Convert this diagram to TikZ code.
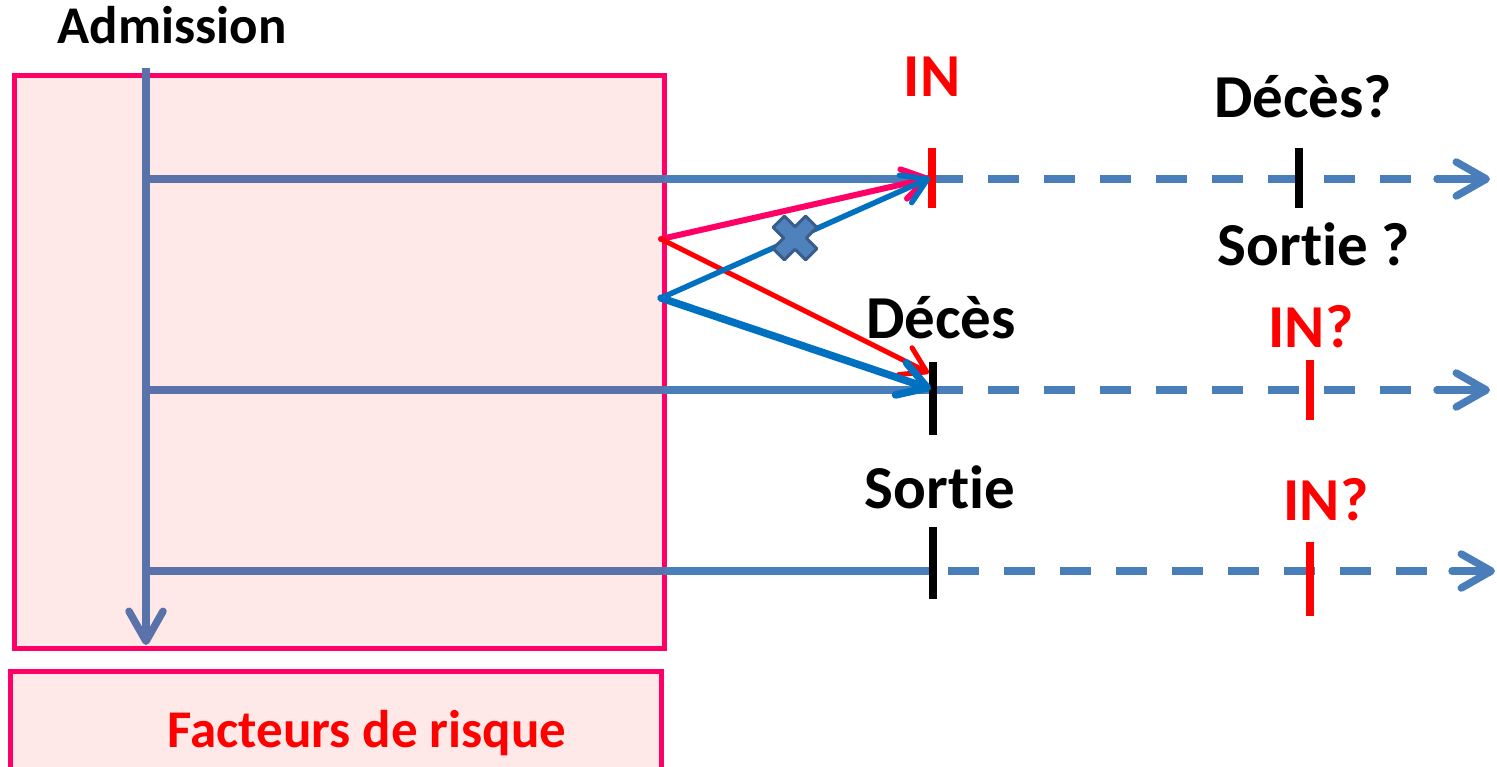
\documentclass[tikz,border=0pt]{standalone}
\usepackage{fontspec}
\setmainfont{Carlito}[Ligatures=NoCommon]
\usetikzlibrary{arrows.meta}
\definecolor{boxfill}{HTML}{FFE8E8}
\definecolor{boxedge}{HTML}{FF0066}
\definecolor{linein}{HTML}{5A72AA}
\definecolor{lineout}{HTML}{4A7EBB}
\definecolor{myred}{HTML}{FF0000}
\definecolor{myblue}{HTML}{0070C0}
\definecolor{crossfill}{HTML}{4F81BD}
\definecolor{crossedge}{HTML}{385D8A}
\tikzset{
  pinkbox/.style={draw=boxedge, fill=boxfill, line width=5pt},
  tline/.style={line width=7.5pt},
  dline/.style={line width=7.5pt, color=lineout, dash pattern=on 31pt off 25pt},
  endarrow/.style={line width=7.5pt, color=lineout, line cap=round, -{Straight Barb[length=30pt,width=34pt,line cap=round,line join=round]}},
  tick/.style={line width=7.5pt},
  lbl/.style={inner sep=0pt, anchor=base, font=\fontsize{61}{70}\selectfont\bfseries},
  diag/.style={line cap=round, -{Straight Barb[length=24pt,width=30pt,line cap=round,line join=round]}},
}
\begin{document}
\begin{tikzpicture}[x=1pt,y=-1pt]
\path[use as bounding box] (0,0) rectangle (1497,766);
\clip (0,0) rectangle (1497,766);
% boxes
\draw[pinkbox] (14,75) rectangle (664,648);
\draw[pinkbox] (10,671) rectangle (661,800);
\node[inner sep=0pt, anchor=base, text=myred, font=\fontsize{53}{60}\selectfont\bfseries] (fr) at (367,747) {Facteurs de risque};
% labels
\node[inner sep=0pt, anchor=base, font=\fontsize{53}{60}\selectfont\bfseries] (adml) at (172,43) {Admission};
\node[lbl, text=myred] (in1) at (932,96) {IN};
\node[lbl] (dq) at (1303,117) {Décès?};
\node[lbl] (sq) at (1314,265) {Sortie ?};
\node[lbl] (dc) at (941,338) {Décès};
\node[lbl, text=myred] (in2) at (1311,347) {IN?};
\node[lbl] (so) at (940,508) {Sortie};
\node[lbl, text=myred] (in3) at (1326,520) {IN?};
% coordinates
\coordinate (a0) at (146,68);
\coordinate (a1) at (146,645);
\coordinate (h1s) at (146,179); \coordinate (h1b) at (664,179); \coordinate (h1t) at (932,179); \coordinate (h1d) at (1437,179); \coordinate (h1e) at (1490,179);
\coordinate (h2s) at (146,390); \coordinate (h2b) at (664,390); \coordinate (h2t) at (932,390); \coordinate (h2d) at (1437,390); \coordinate (h2e) at (1490,390);
\coordinate (h3s) at (146,571); \coordinate (h3b) at (664,571); \coordinate (h3t) at (932,571); \coordinate (h3p) at (948,571); \coordinate (h3d) at (1452,571); \coordinate (h3e) at (1495,571);
% admission axis
\draw[tline, color=linein, -{Straight Barb[length=30pt,width=34pt,line cap=round,line join=round]}] (a0) -- (a1);
% timelines
\foreach \n in {1,2,3}{
  \draw[tline, color=linein] (h\n s) -- (h\n b);
  \draw[tline, color=lineout] (h\n b) -- (h\n t);
}
\draw[dline] (h1t) -- (h1d);
\draw[endarrow] (h1d) -- (h1e);
\draw[dline] (h2t) -- (h2d);
\draw[endarrow] (h2d) -- (h2e);
\draw[dline] (h3p) -- (h3d);
\draw[endarrow] (h3d) -- (h3e);
% ticks
\draw[tick, myred] (932,148) -- (932,208);
\draw[tick, black] (1299,148) -- (1299,208);
\draw[tick, black] (933,362) -- (933,435);
\draw[tick, myred] (1310,360) -- (1310,420);
\draw[tick, black] (933,527) -- (933,599);
\draw[tick, myred] (1310,542) -- (1310,616);
% diagonal arrows
\coordinate (o1) at (661,239);
\coordinate (o2) at (661,298);
\coordinate (t1) at (930,178);
\coordinate (t2) at (929,373);
\coordinate (t3) at (931,389);
\draw[diag, boxedge, line width=6pt] (o1) -- (t1);
\draw[diag, myred, line width=5pt] (o1) -- (t2);
\draw[diag, myblue, line width=5.5pt] (o2) -- (t1);
\draw[diag, myblue, line width=7.5pt, -{Straight Barb[length=28pt,width=34pt,line cap=round,line join=round]}] (o2) -- (t3);
% cross marker
\draw[fill=crossfill, draw=crossedge, line width=3pt, line join=round, shift={(795,238)}, rotate=45]
  (8,23) -- (8,8) -- (23,8) -- (23,-8) -- (8,-8) -- (8,-23) -- (-8,-23) -- (-8,-8) -- (-23,-8) -- (-23,8) -- (-8,8) -- (-8,23) -- cycle;
\end{tikzpicture}
\end{document}
